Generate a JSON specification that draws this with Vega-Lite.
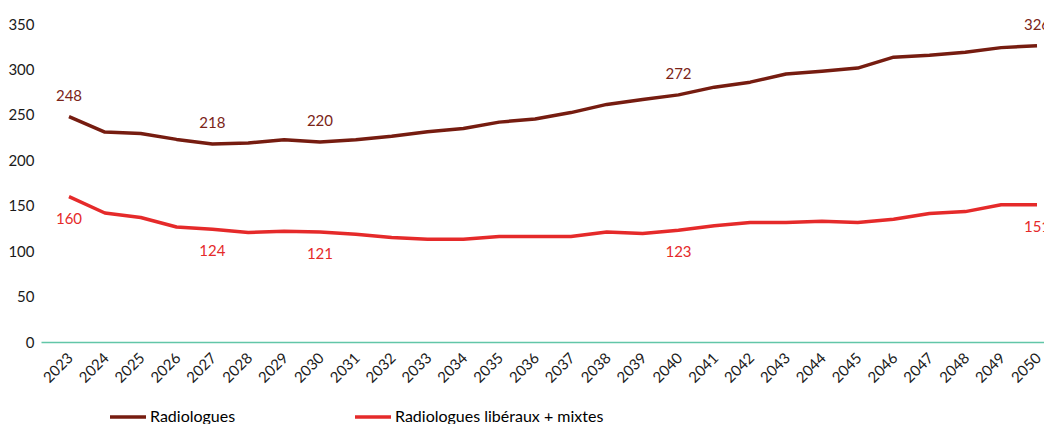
{
  "$schema": "https://vega.github.io/schema/vega-lite/v6.json",
  "autosize": {"type": "none"},
  "padding": {"left": 41, "top": 24, "right": 0, "bottom": 82},
  "width": 1003,
  "height": 318,
  "background": "white",
  "config": {
    "view": {"stroke": null},
    "font": "Lato",
    "axis": {"labelFont": "Lato", "labelColor": "#1a1a1a"},
    "legend": {"labelFont": "Lato"}
  },
  "data": {
    "values": [
      {"year": 2023, "series": "Radiologues", "value": 248},
      {"year": 2024, "series": "Radiologues", "value": 231},
      {"year": 2025, "series": "Radiologues", "value": 229.5},
      {"year": 2026, "series": "Radiologues", "value": 223},
      {"year": 2027, "series": "Radiologues", "value": 218},
      {"year": 2028, "series": "Radiologues", "value": 219},
      {"year": 2029, "series": "Radiologues", "value": 222.5},
      {"year": 2030, "series": "Radiologues", "value": 220},
      {"year": 2031, "series": "Radiologues", "value": 222.5},
      {"year": 2032, "series": "Radiologues", "value": 226.5},
      {"year": 2033, "series": "Radiologues", "value": 231.5},
      {"year": 2034, "series": "Radiologues", "value": 235},
      {"year": 2035, "series": "Radiologues", "value": 242},
      {"year": 2036, "series": "Radiologues", "value": 245.5},
      {"year": 2037, "series": "Radiologues", "value": 252.5},
      {"year": 2038, "series": "Radiologues", "value": 261.5},
      {"year": 2039, "series": "Radiologues", "value": 267},
      {"year": 2040, "series": "Radiologues", "value": 272},
      {"year": 2041, "series": "Radiologues", "value": 280.5},
      {"year": 2042, "series": "Radiologues", "value": 286},
      {"year": 2043, "series": "Radiologues", "value": 295},
      {"year": 2044, "series": "Radiologues", "value": 298},
      {"year": 2045, "series": "Radiologues", "value": 301.5},
      {"year": 2046, "series": "Radiologues", "value": 313.5},
      {"year": 2047, "series": "Radiologues", "value": 315.5},
      {"year": 2048, "series": "Radiologues", "value": 319},
      {"year": 2049, "series": "Radiologues", "value": 324},
      {"year": 2050, "series": "Radiologues", "value": 326},
      {"year": 2023, "series": "Radiologues libéraux + mixtes", "value": 160},
      {"year": 2024, "series": "Radiologues libéraux + mixtes", "value": 142},
      {"year": 2025, "series": "Radiologues libéraux + mixtes", "value": 137},
      {"year": 2026, "series": "Radiologues libéraux + mixtes", "value": 126.5},
      {"year": 2027, "series": "Radiologues libéraux + mixtes", "value": 124},
      {"year": 2028, "series": "Radiologues libéraux + mixtes", "value": 120.5},
      {"year": 2029, "series": "Radiologues libéraux + mixtes", "value": 122},
      {"year": 2030, "series": "Radiologues libéraux + mixtes", "value": 121},
      {"year": 2031, "series": "Radiologues libéraux + mixtes", "value": 118.5},
      {"year": 2032, "series": "Radiologues libéraux + mixtes", "value": 115},
      {"year": 2033, "series": "Radiologues libéraux + mixtes", "value": 113},
      {"year": 2034, "series": "Radiologues libéraux + mixtes", "value": 113},
      {"year": 2035, "series": "Radiologues libéraux + mixtes", "value": 116},
      {"year": 2036, "series": "Radiologues libéraux + mixtes", "value": 116},
      {"year": 2037, "series": "Radiologues libéraux + mixtes", "value": 116},
      {"year": 2038, "series": "Radiologues libéraux + mixtes", "value": 121},
      {"year": 2039, "series": "Radiologues libéraux + mixtes", "value": 119.5},
      {"year": 2040, "series": "Radiologues libéraux + mixtes", "value": 123},
      {"year": 2041, "series": "Radiologues libéraux + mixtes", "value": 128},
      {"year": 2042, "series": "Radiologues libéraux + mixtes", "value": 131.5},
      {"year": 2043, "series": "Radiologues libéraux + mixtes", "value": 131.5},
      {"year": 2044, "series": "Radiologues libéraux + mixtes", "value": 133},
      {"year": 2045, "series": "Radiologues libéraux + mixtes", "value": 131.5},
      {"year": 2046, "series": "Radiologues libéraux + mixtes", "value": 135},
      {"year": 2047, "series": "Radiologues libéraux + mixtes", "value": 141.5},
      {"year": 2048, "series": "Radiologues libéraux + mixtes", "value": 143.5},
      {"year": 2049, "series": "Radiologues libéraux + mixtes", "value": 151},
      {"year": 2050, "series": "Radiologues libéraux + mixtes", "value": 151}
    ]
  },
  "encoding": {
    "x": {
      "field": "year",
      "type": "ordinal",
      "sort": "ascending",
      "scale": {"type": "point", "padding": 0.488, "align": 0.8},
      "axis": {
        "title": null,
        "ticks": false,
        "domainColor": "#62c6a8",
        "domainWidth": 1.5,
        "labelAngle": -45,
        "labelAlign": "right",
        "labelBaseline": "middle",
        "labelFontSize": 15,
        "labelPadding": 13,
        "labelOffset": 1
      }
    },
    "y": {
      "field": "value",
      "type": "quantitative",
      "scale": {"domain": [0, 350], "nice": false},
      "axis": {
        "title": null,
        "domain": false,
        "ticks": false,
        "grid": false,
        "values": [0, 50, 100, 150, 200, 250, 300, 350],
        "labelFontSize": 15,
        "labelPadding": 7
      }
    }
  },
  "layer": [
    {
      "mark": {"type": "line", "strokeWidth": 3.5, "strokeJoin": "round"},
      "encoding": {
        "color": {
          "field": "series",
          "type": "nominal",
          "scale": {
            "domain": ["Radiologues", "Radiologues libéraux + mixtes"],
            "range": ["#761c10", "#e52a2a"]
          },
          "legend": {
            "title": null,
            "orient": "none",
            "direction": "horizontal",
            "legendX": 67,
            "legendY": 373,
            "symbolType": "stroke",
            "symbolSize": 1296,
            "symbolStrokeWidth": 3.5,
            "labelFontSize": 16,
            "labelColor": "#000000",
            "labelOffset": 2,
            "columnPadding": 112,
            "labelLimit": 400
          }
        }
      }
    },
    {
      "transform": [
        {"filter": "datum.series == 'Radiologues'"},
        {"filter": {"field": "year", "oneOf": [2023, 2027, 2030, 2040, 2050]}}
      ],
      "mark": {"type": "text", "fontSize": 15, "dy": -21, "baseline": "middle", "align": "center", "color": "#7b2418"},
      "encoding": {"text": {"field": "value", "type": "quantitative", "format": ".0f"}}
    },
    {
      "transform": [
        {"filter": "datum.series != 'Radiologues'"},
        {"filter": {"field": "year", "oneOf": [2023, 2027, 2030, 2040, 2050]}}
      ],
      "mark": {"type": "text", "fontSize": 15, "dy": 22, "baseline": "middle", "align": "center", "color": "#e52a2a"},
      "encoding": {"text": {"field": "value", "type": "quantitative", "format": ".0f"}}
    }
  ]
}
